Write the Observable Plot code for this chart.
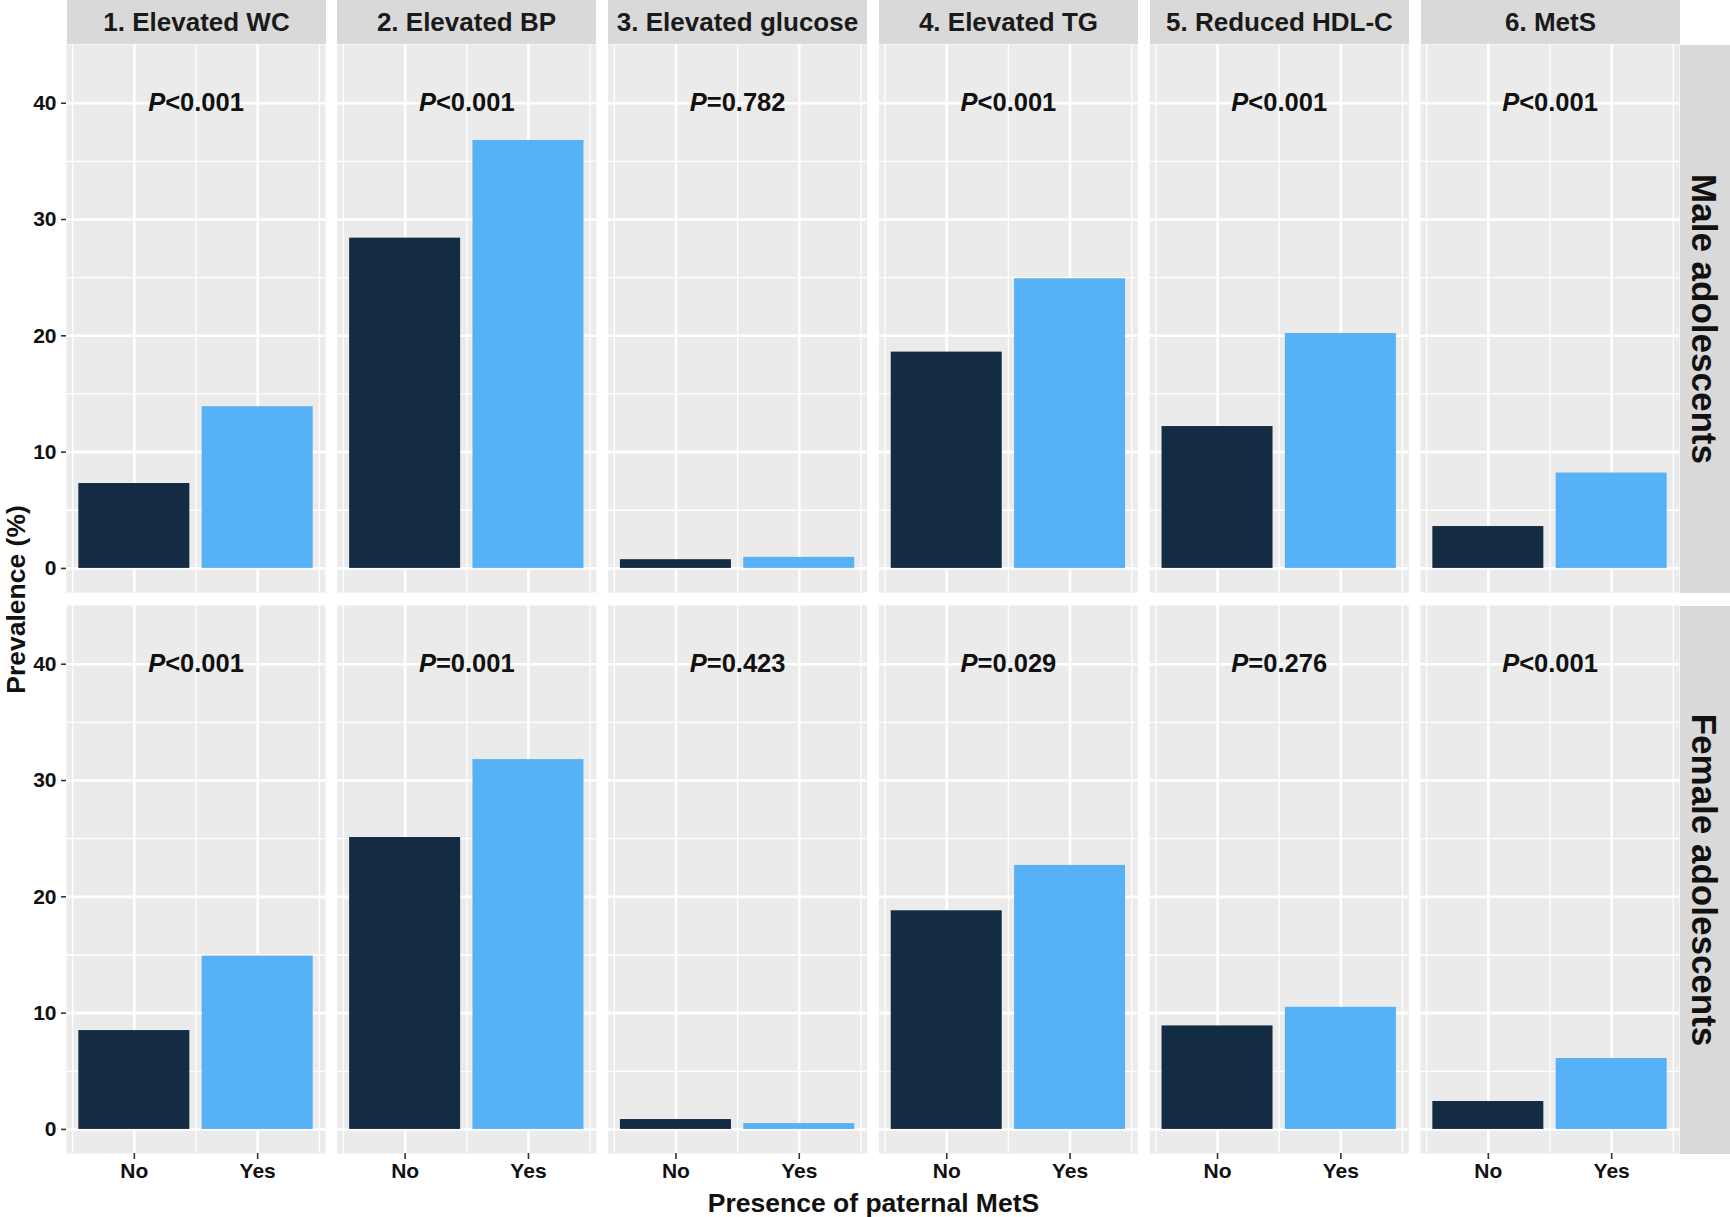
<!DOCTYPE html>
<html><head><meta charset="utf-8">
<script src="https://cdn.jsdelivr.net/npm/d3@7"></script>
<script src="https://cdn.jsdelivr.net/npm/@observablehq/plot@0.6"></script>
<style>
body{margin:0;background:#fff}
#chart svg{display:block}
#chart svg text{font-weight:bold}
</style>
</head><body><div id="chart"></div>
<script>
const indicators = ["1. Elevated WC","2. Elevated BP","3. Elevated glucose","4. Elevated TG","5. Reduced HDL-C","6. MetS"];
const groups = ["Male adolescents","Female adolescents"];
const paternal = ["No","Yes"];
const maleNo    = [7.3, 28.4, 0.75, 18.6, 12.2, 3.6];
const maleYes   = [13.9, 36.8, 0.95, 24.9, 20.2, 8.2];
const femaleNo  = [8.5, 25.1, 0.85, 18.8, 8.9, 2.4];
const femaleYes = [14.9, 31.8, 0.5, 22.7, 10.5, 6.1];
const maleP   = ["<0.001","<0.001","=0.782","<0.001","<0.001","<0.001"];
const femaleP = ["<0.001","=0.001","=0.423","=0.029","=0.276","<0.001"];
const yTicks = [0,10,20,30,40];
const yMinor = [5,15,25,35];
const xLabelY = 40;

const FONT = "'Liberation Sans', Arial, Helvetica, sans-serif";

const series = [
  {group: groups[0], no: maleNo, yes: maleYes, p: maleP},
  {group: groups[1], no: femaleNo, yes: femaleYes, p: femaleP}
];
const bars = [];
const plabels = [];
for (const s of series) {
  indicators.forEach((ind, i) => {
    bars.push({group: s.group, indicator: ind, paternal: "No", pos: 1, value: s.no[i]});
    bars.push({group: s.group, indicator: ind, paternal: "Yes", pos: 2, value: s.yes[i]});
    plabels.push({group: s.group, indicator: ind, label: "P" + s.p[i]});
  });
}
const xPos = paternal.map((d, i) => i + 1);
const xMinor = [0.5, 1.5, 2.5];

const W = 1730, H = 1217;
const mL = 66, mR = 51, mT = 44, mB = 64;

const plot = Plot.plot({
  width: W, height: H,
  marginTop: mT, marginLeft: mL, marginRight: mR, marginBottom: mB,
  style: {fontFamily: FONT, background: "white", color: "#1a1a1a"},
  fx: {domain: indicators, axis: null, paddingInner: 0.0436, paddingOuter: 0, round: false},
  fy: {domain: groups, axis: null, paddingInner: 0.0232, paddingOuter: 0, round: false},
  x: {type: "linear", domain: [0.45, 2.55], axis: null},
  y: {domain: [-2.07, 45.05], axis: null},
  color: {domain: paternal, range: ["#132B43", "#56B1F7"]},
  marks: [
    Plot.frame({fill: "#EBEBEB", stroke: "none"}),
    Plot.ruleY(yMinor, {stroke: "white", strokeWidth: 1.3}),
    Plot.ruleX(xMinor, {stroke: "white", strokeWidth: 1.3}),
    Plot.ruleY(yTicks, {stroke: "white", strokeWidth: 2.6}),
    Plot.ruleX(xPos, {stroke: "white", strokeWidth: 2.6}),
    Plot.rect(bars, {
      x1: d => d.pos - 0.45, x2: d => d.pos + 0.45, y1: 0, y2: "value",
      fx: "indicator", fy: "group", fill: "paternal"
    }),
    Plot.text(plabels, {
      x: 1.5, y: xLabelY, text: "label", fx: "indicator", fy: "group",
      fontSize: 25.5, fontWeight: "bold", fill: "#111"
    }),
    Plot.axisY({ticks: yTicks, anchor: "left", tickSize: 5, tickPadding: 5,
      fontSize: 21, label: null, stroke: "#333", fill: "#111", strokeWidth: 1.6}),
    Plot.axisX({ticks: xPos, tickFormat: d => paternal[d - 1], anchor: "bottom",
      tickSize: 6, tickPadding: 4, fontSize: 21, label: null, stroke: "#333", fill: "#111", strokeWidth: 1.6})
  ]
});

document.getElementById("chart").appendChild(plot);

const svg = d3.select(plot);
// italic P in the P-value labels
svg.selectAll('g[aria-label="text"] text').each(function() {
  const t = this.textContent;
  if (t.startsWith("P")) {
    const sel = d3.select(this);
    sel.text(null);
    sel.append("tspan").attr("font-style", "italic").text("P");
    sel.append("tspan").text(t.slice(1));
  }
});

// facet strips, positioned from the rendered facet frames
const svgBox = plot.getBoundingClientRect();
const frames = Array.from(plot.querySelectorAll('g[aria-label="frame"] rect')).map(r => {
  const b = r.getBoundingClientRect();
  return {x: b.left - svgBox.left, y: b.top - svgBox.top, w: b.width, h: b.height};
});
const colXs = Array.from(new Set(frames.map(f => Math.round(f.x)))).sort((a, b) => a - b);
const rowYs = Array.from(new Set(frames.map(f => Math.round(f.y)))).sort((a, b) => a - b);
const panelW = frames[0].w, panelH = frames[0].h;

const strips = svg.append("g").attr("font-family", FONT);
indicators.forEach((ind, i) => {
  const x0 = colXs[i];
  strips.append("rect").attr("x", x0).attr("y", 0).attr("width", panelW).attr("height", mT)
    .attr("fill", "#D9D9D9");
  strips.append("text").attr("x", x0 + panelW / 2).attr("y", mT / 2)
    .attr("text-anchor", "middle").attr("dominant-baseline", "central")
    .attr("font-size", 26).attr("fill", "#1a1a1a").text(ind);
});
const rightX = colXs[colXs.length - 1] + panelW;
groups.forEach((g, i) => {
  const y0 = rowYs[i];
  strips.append("rect").attr("x", rightX).attr("y", y0).attr("width", W - rightX).attr("height", panelH)
    .attr("fill", "#D9D9D9");
  const cx = rightX + (W - rightX) / 2, cy = y0 + panelH / 2;
  strips.append("text").attr("transform", `translate(${cx},${cy}) rotate(90)`)
    .attr("text-anchor", "middle").attr("dominant-baseline", "central")
    .attr("font-size", 35).attr("fill", "#111").text(g);
});

// axis titles
const plotLeft = colXs[0], plotTop = rowYs[0];
const plotBottom = rowYs[rowYs.length - 1] + panelH;
strips.append("text").attr("x", (plotLeft + rightX) / 2).attr("y", 1203)
  .attr("text-anchor", "middle").attr("dominant-baseline", "central")
  .attr("font-size", 26.5).attr("fill", "#111").text("Presence of paternal MetS");
strips.append("text").attr("transform", `translate(16,${(plotTop + plotBottom) / 2}) rotate(-90)`)
  .attr("text-anchor", "middle").attr("dominant-baseline", "central")
  .attr("font-size", 26.5).attr("fill", "#111").text("Prevalence (%)");
</script>
</body></html>
